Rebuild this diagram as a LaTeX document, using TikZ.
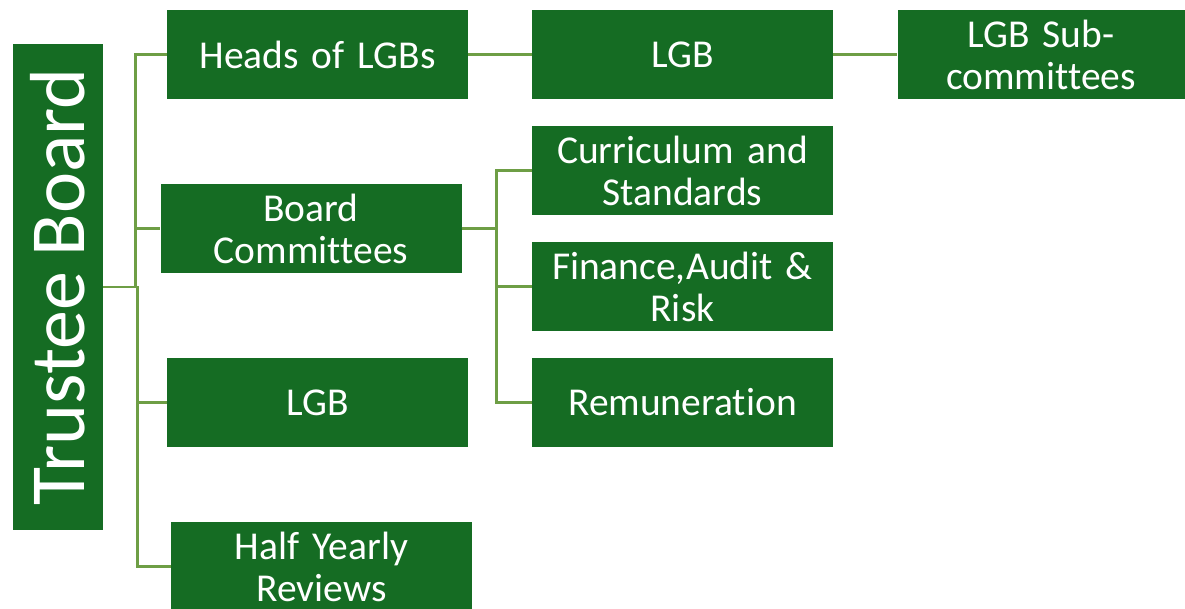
\documentclass[tikz,border=0pt]{standalone}
\usepackage{fontspec}
\setmainfont{Carlito}[Ligatures=NoCommon]
\usepackage{tikz}
\usetikzlibrary{positioning,calc}
\definecolor{boxgreen}{HTML}{156C23}
\definecolor{linkgreen}{HTML}{6E9E45}
\newcommand\govfont{\fontsize{39.5}{42}\selectfont\spaceskip=0.17em\relax}
\newcommand\trusteefont{\fontsize{78}{80}\selectfont\spaceskip=0.2em\relax}
\tikzstyle{govbox}=[fill=boxgreen,text=white,minimum width=301pt,minimum height=89pt,inner sep=0pt,text width=298pt,align=center,font=\govfont]
\tikzstyle{link}=[draw=linkgreen,line width=2.6pt]

\begin{document}
\begin{tikzpicture}[x=1pt,y=-1pt]
    \useasboundingbox (0,0) rectangle (1185,609);
    \node [fill=boxgreen,text=white,rotate=90,minimum width=486pt,minimum height=90pt,inner sep=0pt,font=\trusteefont] (trustee) at (58,287) {Trustee Board};
    \node [govbox] (heads) at (317.5,54.5) {Heads of LGBs};
    \node [govbox] (boardcom) at (311,228.5) {Board\\Committees};
    \node [govbox] (lgbleft) at (317.5,402.5) {LGB};
    \node [govbox] (halfyear) at (321.5,566.5) {Half Yearly\\Reviews};
    \node [govbox] (lgbtop) at (682.5,54.5) {LGB};
    \node [govbox] (curric) at (682.5,170.5) {Curriculum and\\Standards};
    \node [govbox] (finance) at (682.5,286.5) {Finance,Audit \&\\Risk};
    \node [govbox] (remun) at (682.5,402.5) {Remuneration};
    \node [govbox,minimum width=287pt,text width=285pt] (lgbsub) at (1041,54.5) {LGB Sub-\\committees};

    \draw [link] (trustee.south) -- ++(32,0) |- (heads.west);
    \draw [link] (trustee.south) -- ++(32,0) |- (boardcom.west);
    \draw [link] (trustee.south) -- ++(34,0) |- (lgbleft.west);
    \draw [link] (trustee.south) -- ++(34,0) |- (halfyear.west);
    \draw [link] (boardcom.east) -- ++(35,0) |- (curric.west);
    \draw [link] (boardcom.east) -- ++(35,0) |- (finance.west);
    \draw [link] (boardcom.east) -- ++(35,0) |- (remun.west);
    \draw [link] (heads.east) -- (lgbtop.west);
    \draw [link] (lgbtop.east) -- (lgbsub.west);
\end{tikzpicture}
\end{document}
